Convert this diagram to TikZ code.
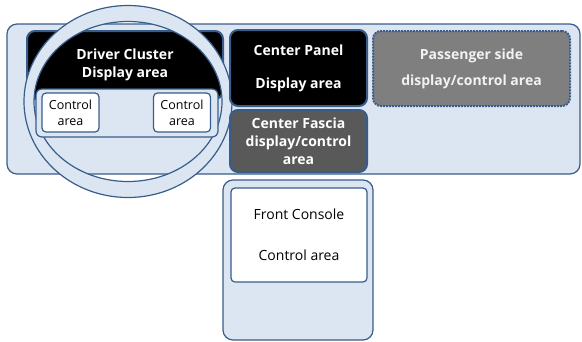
\documentclass[tikz,border=0pt]{standalone}
\usepackage{fontspec}
\setmainfont{Open Sans}
\definecolor{paleblue}{HTML}{DCE6F2}
\definecolor{edgeblue}{HTML}{385D8A}
\definecolor{fasciagray}{HTML}{595959}
\definecolor{passgray}{HTML}{7F7F7F}
\tikzset{
	panel/.style={draw=edgeblue, fill=paleblue, line width=1.2pt, rounded corners=10pt},
	screen/.style={draw=edgeblue, line width=2pt, rounded corners=8pt, text=white, align=center,
		font=\fontsize{14}{18}\selectfont\bfseries},
	knob/.style={draw=edgeblue, fill=white, line width=1.2pt, rounded corners=4pt, align=center,
		font=\fontsize{12.5}{16}\selectfont}
}
\begin{document}
\begin{tikzpicture}[x=1pt, y=-1pt, inner sep=0pt]
	\useasboundingbox (0,0) rectangle (582,341);
	\node[panel, minimum width=573pt, minimum height=150pt] (dash) at (293.5,99) {};
	\node[screen, fill=black, minimum width=196pt, minimum height=68pt] (driver) at (125,65) {Driver Cluster\\Display area};
	\coordinate (hub) at (128,101.5);
	\draw[edgeblue, fill=paleblue, line width=1.2pt, even odd rule]
		(hub) ellipse [x radius=104pt, y radius=96pt]
		(hub) ellipse [x radius=94pt, y radius=80pt];
	\node[panel, rounded corners=6pt, minimum width=182pt, minimum height=48pt] (ctrl) at (127,113) {};
	\node[knob, minimum width=57pt, minimum height=39pt] (ctrlL) at (70.5,112.5) {Control\\area};
	\node[knob, minimum width=57pt, minimum height=39pt] (ctrlR) at (182,112.5) {Control\\area};
	\node[screen, fill=black, minimum width=137pt, minimum height=76pt] (cpanel) at (298.5,68) {Center Panel\\[15pt]Display area};
	\node[screen, fill=fasciagray, minimum width=137pt, minimum height=62pt] (fascia) at (298.5,141) {Center Fascia\\display/control\\area};
	\node[screen, fill=passgray, text=white!95!black, densely dotted, minimum width=197pt, minimum height=75pt] (pass) at (471.5,68.5) {Passenger side\\[8pt]display/control area};
	\node[panel, minimum width=150pt, minimum height=160pt] (console) at (298,260) {};
	\node[knob, font=\fontsize{14}{18}\selectfont, minimum width=136pt, minimum height=94pt] (consoleIn) at (299,235) {Front Console\\[23pt]Control area};
\end{tikzpicture}
\end{document}
